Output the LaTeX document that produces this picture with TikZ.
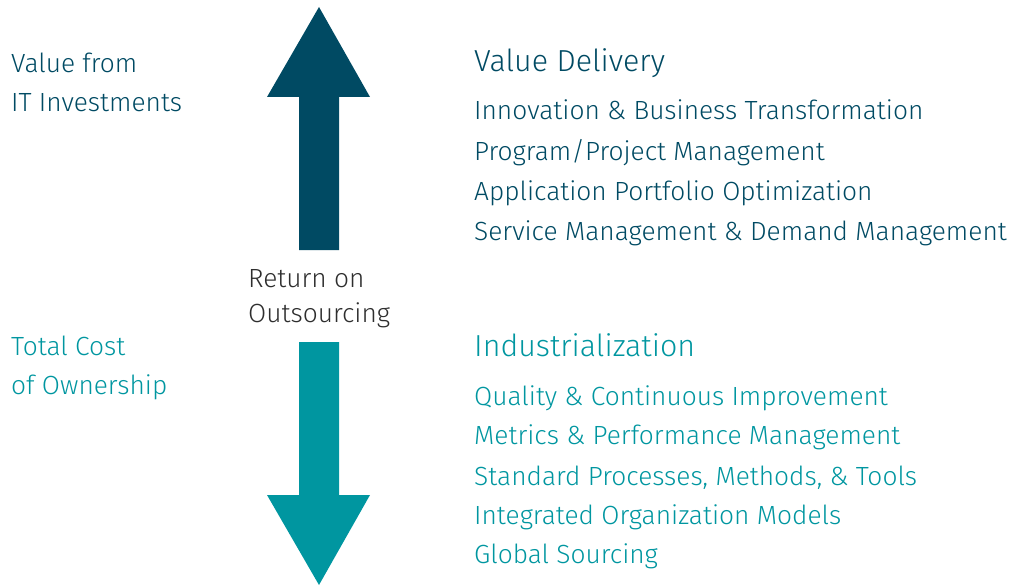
\documentclass[tikz,border=0pt]{standalone}
\usepackage{fontspec}
\setmainfont{Fira Sans}[UprightFont=* Light]
\definecolor{deepteal}{HTML}{004A63}
\definecolor{brightteal}{HTML}{0096A0}
\definecolor{textgray}{HTML}{2E2E2E}
\begin{document}
\begin{tikzpicture}[x=1pt,y=-1pt,
  txt/.style={anchor=base west, inner sep=0pt, font=\fontsize{26.3}{30}\selectfont},
  head/.style={anchor=base west, inner sep=0pt, font=\fontsize{30.4}{36}\selectfont}]
\useasboundingbox (0,0) rectangle (1013,586);
% upward arrow: value
\fill[deepteal] (319,7) -- (370,97) -- (339,97) -- (339,250) -- (299,250) -- (299,97) -- (267,97) -- cycle;
% downward arrow: cost
\fill[brightteal] (299,342) -- (339,342) -- (339,495) -- (370,495) -- (319,585) -- (267,495) -- (299,495) -- cycle;
% left-hand labels
\node[txt, text=deepteal] (vf) at (11,73) {Value from};
\node[txt, text=deepteal] (iti) at (11,112) {IT Investments};
\node[txt, text=brightteal] (tc) at (11,355) {Total Cost};
\node[txt, text=brightteal] (oo) at (11,394) {of Ownership};
% centre label
\node[txt, text=textgray] (ro) at (248,287) {Return on};
\node[txt, text=textgray] (os) at (248,322) {Outsourcing};
% value delivery list
\node[head, text=deepteal] (vd) at (474,72) {Value Delivery};
\node[txt, text=deepteal] (v1) at (474,120) {Innovation \& Business Transformation};
\node[txt, text=deepteal] (v2) at (474,160) {Program/Project Management};
\node[txt, text=deepteal] (v3) at (474,200) {Application Portfolio Optimization};
\node[txt, text=deepteal] (v4) at (474,240) {Service Management \& Demand Management};
% industrialization list
\node[head, text=brightteal] (ind) at (474,356) {Industrialization};
\node[txt, text=brightteal] (i1) at (474,405) {Quality \& Continuous Improvement};
\node[txt, text=brightteal] (i2) at (474,444) {Metrics \& Performance Management};
\node[txt, text=brightteal] (i3) at (474,485) {Standard Processes, Methods, \& Tools};
\node[txt, text=brightteal] (i4) at (474,524) {Integrated Organization Models};
\node[txt, text=brightteal] (i5) at (474,563) {Global Sourcing};
\end{tikzpicture}
\end{document}
